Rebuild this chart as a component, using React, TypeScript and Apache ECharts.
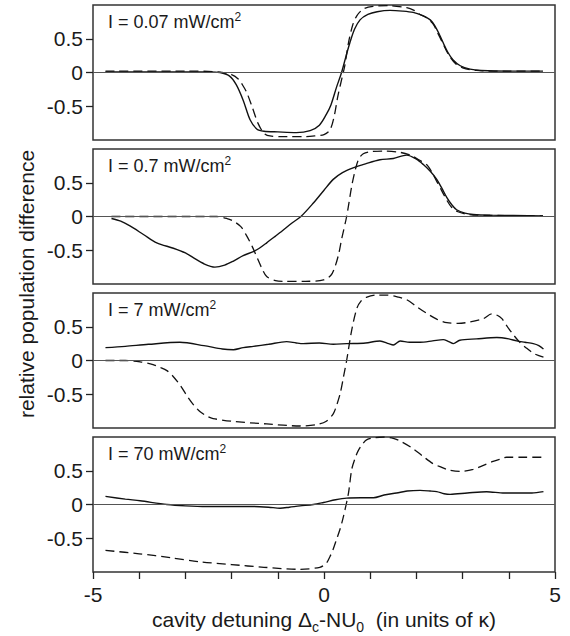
import React, { useEffect, useRef } from "react";
import * as echarts from "echarts";

// ---- data (x in units of kappa, y = relative population difference) ----
const panelLabels = ["0.07", "0.7", "7", "70"];
const xTickLabels = ["-5", "0", "5"];
const yTickValues = [-0.5, 0, 0.5];

const p1Solid = [
  [-4.73, 0.01], [-4.0, 0.01], [-3.0, 0.01], [-2.5, 0.01], [-2.25, 0.0], [-2.05, -0.05], [-1.9, -0.18],
  [-1.75, -0.41], [-1.6, -0.7], [-1.45, -0.84], [-1.3, -0.87], [-1.0, -0.88], [-0.6, -0.89], [-0.3, -0.86],
  [-0.1, -0.78], [0.05, -0.62], [0.15, -0.48], [0.27, -0.22], [0.38, 0.0], [0.48, 0.25], [0.56, 0.44],
  [0.66, 0.64], [0.78, 0.78], [0.95, 0.86], [1.15, 0.9], [1.43, 0.92], [1.7, 0.91], [1.93, 0.89],
  [2.15, 0.84], [2.3, 0.78], [2.4, 0.69], [2.5, 0.56], [2.58, 0.44], [2.68, 0.3], [2.79, 0.19],
  [2.95, 0.1], [3.16, 0.05], [3.4, 0.03], [4.0, 0.02], [4.74, 0.02],
];
const p1Dashed = [
  [-4.73, 0.02], [-3.0, 0.02], [-2.3, 0.01], [-2.0, -0.03], [-1.85, -0.1], [-1.75, -0.2], [-1.67, -0.3],
  [-1.55, -0.52], [-1.43, -0.75], [-1.3, -0.9], [-1.17, -0.94], [-0.8, -0.95], [-0.4, -0.95], [-0.2, -0.94],
  [0.0, -0.92], [0.13, -0.85], [0.22, -0.65], [0.3, -0.35], [0.4, -0.05], [0.45, 0.1], [0.53, 0.44],
  [0.62, 0.7], [0.71, 0.84], [0.85, 0.94], [1.06, 0.98], [1.4, 0.99], [1.79, 0.96], [1.95, 0.92],
  [2.08, 0.86], [2.2, 0.82], [2.36, 0.72], [2.45, 0.6], [2.58, 0.42], [2.7, 0.26], [2.85, 0.13],
  [3.0, 0.07], [3.3, 0.03], [4.0, 0.02], [4.74, 0.02],
];
const p2Solid = [
  [-4.6, -0.03], [-4.4, -0.07], [-4.2, -0.14], [-3.9, -0.27], [-3.62, -0.39], [-3.26, -0.47], [-3.0, -0.54],
  [-2.83, -0.61], [-2.6, -0.7], [-2.36, -0.75], [-2.15, -0.72], [-1.96, -0.66], [-1.75, -0.58], [-1.53, -0.52],
  [-1.4, -0.47], [-1.24, -0.39], [-1.05, -0.29], [-0.9, -0.21], [-0.7, -0.1], [-0.5, 0.0], [-0.23, 0.2],
  [0.0, 0.39], [0.2, 0.55], [0.4, 0.65], [0.63, 0.72], [0.9, 0.78], [1.21, 0.84], [1.5, 0.86], [1.79, 0.91],
  [2.0, 0.85], [2.15, 0.77], [2.3, 0.67], [2.44, 0.55], [2.55, 0.42], [2.66, 0.28], [2.77, 0.17],
  [2.87, 0.1], [3.05, 0.05], [3.23, 0.03], [3.6, 0.02], [4.74, 0.01],
];
const p2Dashed = [
  [-4.6, 0.0], [-3.0, 0.0], [-2.32, 0.0], [-2.1, -0.03], [-1.96, -0.07], [-1.8, -0.15], [-1.67, -0.29],
  [-1.55, -0.45], [-1.46, -0.59], [-1.35, -0.76], [-1.24, -0.89], [-1.05, -0.95], [-0.88, -0.96],
  [-0.4, -0.96], [-0.01, -0.94], [0.15, -0.87], [0.24, -0.74], [0.32, -0.55], [0.38, -0.34], [0.49, 0.0],
  [0.6, 0.45], [0.68, 0.7], [0.75, 0.85], [0.85, 0.93], [1.0, 0.96], [1.3, 0.97], [1.65, 0.95], [1.9, 0.9],
  [2.05, 0.84], [2.22, 0.77], [2.35, 0.64], [2.44, 0.52], [2.55, 0.38], [2.66, 0.24], [2.77, 0.13],
  [2.9, 0.07], [3.05, 0.04], [3.3, 0.02], [4.74, 0.01],
];
const p3Solid = [
  [-4.73, 0.19], [-4.3, 0.21], [-3.8, 0.24], [-3.12, 0.27], [-2.6, 0.22], [-2.2, 0.17], [-1.96, 0.16],
  [-1.75, 0.19], [-1.53, 0.21], [-1.2, 0.24], [-0.81, 0.28], [-0.6, 0.26], [-0.45, 0.25], [-0.1, 0.26],
  [0.2, 0.24], [0.49, 0.25], [0.9, 0.26], [1.21, 0.29], [1.4, 0.25], [1.5, 0.23], [1.65, 0.29],
  [1.85, 0.27], [2.08, 0.27], [2.35, 0.29], [2.58, 0.31], [2.7, 0.28], [2.8, 0.25], [2.94, 0.3],
  [3.3, 0.32], [3.74, 0.34], [4.0, 0.32], [4.17, 0.29], [4.35, 0.27], [4.53, 0.25], [4.65, 0.22],
  [4.75, 0.17],
];
const p3Dashed = [
  [-4.73, 0.0], [-4.3, 0.0], [-3.98, -0.02], [-3.7, -0.06], [-3.55, -0.1], [-3.4, -0.15], [-3.26, -0.24],
  [-3.1, -0.38], [-2.97, -0.52], [-2.82, -0.66], [-2.68, -0.76], [-2.52, -0.83], [-2.4, -0.86],
  [-2.0, -0.9], [-1.24, -0.94], [-0.52, -0.97], [-0.16, -0.95], [0.05, -0.9], [0.2, -0.79], [0.28, -0.65],
  [0.35, -0.49], [0.42, -0.25], [0.49, 0.0], [0.6, 0.45], [0.71, 0.77], [0.8, 0.88], [0.93, 0.94],
  [1.15, 0.97], [1.36, 0.97], [1.6, 0.94], [1.79, 0.9], [2.0, 0.8], [2.22, 0.7], [2.45, 0.61],
  [2.66, 0.56], [2.9, 0.55], [3.16, 0.57], [3.45, 0.62], [3.63, 0.69], [3.75, 0.67], [3.85, 0.62],
  [3.95, 0.52], [4.1, 0.38], [4.25, 0.26], [4.39, 0.18], [4.55, 0.1], [4.75, 0.05],
];
const p4Solid = [
  [-4.73, 0.12], [-4.3, 0.08], [-3.98, 0.055], [-3.4, 0.0], [-3.0, -0.02], [-2.54, -0.03], [-2.0, -0.03],
  [-1.53, -0.03], [-1.2, -0.04], [-0.95, -0.055], [-0.75, -0.04], [-0.52, -0.02], [-0.23, 0.0],
  [-0.01, 0.03], [0.25, 0.07], [0.49, 0.095], [0.8, 0.1], [1.07, 0.1], [1.3, 0.14], [1.57, 0.17],
  [1.8, 0.2], [2.08, 0.21], [2.3, 0.2], [2.44, 0.19], [2.6, 0.16], [2.73, 0.15], [3.1, 0.17],
  [3.52, 0.19], [3.9, 0.17], [4.24, 0.17], [4.5, 0.17], [4.75, 0.19],
];
const p4Dashed = [
  [-4.73, -0.68], [-4.0, -0.73], [-3.3, -0.79], [-2.68, -0.85], [-2.0, -0.89], [-1.3, -0.93],
  [-0.52, -0.96], [-0.09, -0.93], [0.05, -0.87], [0.13, -0.77], [0.2, -0.66], [0.27, -0.52],
  [0.35, -0.36], [0.42, -0.18], [0.53, 0.17], [0.6, 0.52], [0.68, 0.7], [0.75, 0.81], [0.85, 0.91],
  [0.93, 0.96], [1.1, 0.99], [1.29, 1.0], [1.5, 0.98], [1.65, 0.94], [1.9, 0.84], [2.15, 0.71],
  [2.35, 0.61], [2.51, 0.56], [2.7, 0.51], [2.94, 0.49], [3.23, 0.52], [3.45, 0.58], [3.66, 0.64],
  [3.85, 0.68], [3.95, 0.7], [4.3, 0.7], [4.75, 0.7],
];

const solidSeries = [p1Solid, p2Solid, p3Solid, p4Solid];
const dashedSeries = [p1Dashed, p2Dashed, p3Dashed, p4Dashed];

// ---- layout ----
const FONT = "'Liberation Sans', Arial, Helvetica, sans-serif";
const INK = "#1a1a1a";
const GRID_LEFT = 93;
const GRID_WIDTH = 462;
const GRID_TOPS = [5, 149, 293, 437];
const GRID_H = 135;

export default function App() {
  const ref = useRef<HTMLDivElement>(null);

  useEffect(() => {
    document.body.style.margin = "0";
    if (!ref.current) return;
    const chart = echarts.init(ref.current, null, { renderer: "svg" });

    const grids = GRID_TOPS.map((top) => ({
      left: GRID_LEFT,
      width: GRID_WIDTH,
      top,
      height: GRID_H,
      show: true,
      borderColor: "#333",
      borderWidth: 1.5,
      backgroundColor: "transparent",
      containLabel: false,
    }));

    const xAxes = GRID_TOPS.map((_, i) => {
      const last = i === GRID_TOPS.length - 1;
      return {
        type: "value",
        gridIndex: i,
        min: -5,
        max: 5,
        interval: 1,
        axisLine: { show: false, onZero: false },
        splitLine: { show: false },
        axisTick: {
          show: last,
          inside: false,
          length: 7,
          lineStyle: { color: "#222", width: 1.3 },
        },
        axisLabel: {
          show: last,
          margin: 12,
          fontSize: 21,
          fontFamily: FONT,
          color: INK,
          formatter: (v: number) => (xTickLabels.includes(String(v)) ? String(v) : ""),
        },
      };
    });

    const yAxes = GRID_TOPS.map((_, i) => ({
      type: "value",
      gridIndex: i,
      min: -1,
      max: 1,
      interval: 0.5,
      axisLine: { show: false, onZero: false },
      splitLine: { show: false },
      axisTick: {
        show: true,
        inside: false,
        length: 7,
        customValues: yTickValues,
        lineStyle: { color: "#222", width: 1.3 },
      },
      axisLabel: {
        show: true,
        margin: 10,
        fontSize: 21,
        fontFamily: FONT,
        color: INK,
        customValues: yTickValues,
        formatter: (v: number) => (yTickValues.includes(v) ? String(v) : ""),
      },
    }));

    const series: any[] = [];
    GRID_TOPS.forEach((_, i) => {
      series.push({
        type: "line",
        xAxisIndex: i,
        yAxisIndex: i,
        data: dashedSeries[i],
        showSymbol: false,
        smooth: 0.3,
        lineStyle: { color: "#111", width: 1.3, type: [9, 5] },
        z: 3,
      });
      series.push({
        type: "line",
        xAxisIndex: i,
        yAxisIndex: i,
        data: solidSeries[i],
        showSymbol: false,
        smooth: 0.3,
        lineStyle: { color: "#111", width: 1.4, type: "solid" },
        z: 4,
        markLine: {
          silent: true,
          symbol: ["none", "none"],
          label: { show: false },
          lineStyle: { color: "#555", width: 1, type: "solid" },
          data: [{ yAxis: 0 }],
        },
      });
    });

    const graphic: any[] = [];
    GRID_TOPS.forEach((top, i) => {
      graphic.push({
        type: "text",
        x: 108,
        y: top + 17,
        style: {
          text: `{m|I = ${panelLabels[i]} mW/cm}{sup|2}`,
          align: "left",
          verticalAlign: "middle",
          rich: {
            m: { fontSize: 18, fontFamily: FONT, fill: INK, lineHeight: 22 },
            sup: { fontSize: 12, fontFamily: FONT, fill: INK, lineHeight: 12, verticalAlign: "top" },
          },
        },
      });
    });
    graphic.push({
      type: "text",
      x: 26,
      y: 284,
      rotation: Math.PI / 2,
      style: {
        text: "relative population difference",
        fontSize: 21,
        fontFamily: FONT,
        fill: INK,
        align: "center",
        verticalAlign: "middle",
      },
    });
    graphic.push({
      type: "text",
      x: 324,
      y: 619,
      style: {
        text: "{m|cavity detuning Δ}{s|c}{m|-NU}{s|0}{m|  (in units of κ)}",
        align: "center",
        verticalAlign: "middle",
        rich: {
          m: { fontSize: 21, fontFamily: FONT, fill: INK, lineHeight: 30 },
          s: { fontSize: 14, fontFamily: FONT, fill: INK, lineHeight: 10, verticalAlign: "bottom" },
        },
      },
    });

    chart.setOption({
      animation: false,
      backgroundColor: "#fff",
      grid: grids,
      xAxis: xAxes,
      yAxis: yAxes,
      series,
      graphic,
    });

    return () => chart.dispose();
  }, []);

  return <div ref={ref} style={{ width: 570, height: 636 }} />;
}
